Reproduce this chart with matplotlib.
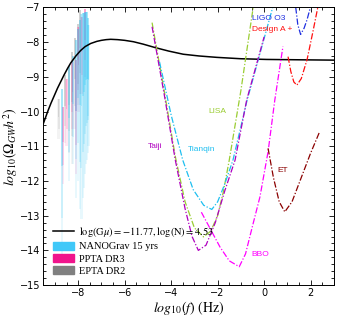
import numpy as np
import matplotlib

matplotlib.use("Agg")
import matplotlib.pyplot as plt
from matplotlib.patches import Patch
from matplotlib.lines import Line2D

plt.rcParams["mathtext.fontset"] = "stix"

# cosmic string spectrum (log10 f, log10 Omega h^2)
cs_logf = [-9.5, -9.3, -9.17, -9.0, -8.89, -8.75, -8.61, -8.45, -8.32, -8.1, -7.89, -7.7, -7.46, -7.2,
           -7.0, -6.8, -6.6, -6.3, -6.0, -5.62, -5.2, -4.68, -4.1, -3.48, -2.8, -2.04, -1.0, 0.1, 1.5, 3.0]
cs_logo = [-10.35, -9.98, -9.76, -9.5, -9.33, -9.14, -8.95, -8.75, -8.6, -8.4, -8.24, -8.13, -8.04, -7.98,
           -7.95, -7.93, -7.92, -7.93, -7.95, -7.99, -8.06, -8.16, -8.26, -8.35, -8.4, -8.44, -8.48, -8.5, -8.51, -8.52]

# detector sensitivity curves
lisa_f = [-4.82, -4.3, -3.82, -3.4, -3.0, -2.61, -2.3, -2.0, -1.75, -1.5, -1.0, -0.47]
lisa_o = [-7.44, -9.4, -11.3, -12.6, -13.35, -13.61, -13.45, -13.0, -12.3, -11.4, -9.4, -7.0]
tianqin_f = [-4.5, -4.0, -3.5, -3.05, -2.6, -2.25, -2.0, -1.7, -1.34, -0.73, 0.37]
tianqin_o = [-8.57, -10.1, -11.4, -12.25, -12.7, -12.82, -12.6, -12.1, -11.4, -9.67, -7.0]
taiji_f = [-4.82, -4.3, -3.82, -3.4, -3.1, -2.83, -2.5, -2.1, -1.7, -1.25, -0.75, 0.0]
taiji_o = [-7.56, -9.5, -11.4, -12.8, -13.6, -14.0, -13.85, -13.2, -12.3, -11.4, -9.67, -7.85]
bbo_f = [-2.7, -2.3, -1.9, -1.5, -1.07, -0.8, -0.5, -0.18, 0.17, 0.46, 0.81]
bbo_o = [-12.9, -13.4, -13.9, -14.3, -14.47, -14.1, -13.3, -12.46, -11.16, -9.67, -8.13]
et_f = [0.17, 0.4, 0.65, 0.89, 1.2, 1.6, 2.0, 2.39]
et_o = [-11.06, -11.9, -12.6, -12.89, -12.6, -11.9, -11.2, -10.58]
aplus_f = [1.03, 1.15, 1.28, 1.41, 1.6, 1.85, 2.1, 2.31]
aplus_o = [-8.42, -8.85, -9.15, -9.24, -9.05, -8.5, -7.7, -7.0]
ligo_f = [1.36, 1.45, 1.57, 1.72, 1.85, 1.99]
ligo_o = [-7.0, -7.5, -7.78, -7.6, -7.35, -7.0]

# PTA violins: centre log10 f, lower and upper log10 Omega h^2
nano_f = [-8.70, -8.40, -8.23, -8.10, -8.00, -7.93, -7.86, -7.80, -7.75, -7.70, -7.66, -7.62, -7.59, -7.56]
nano_lo = [-14.3, -12.0, -11.5, -12.5, -12.0, -12.8, -13.1, -12.5, -12.2, -11.8, -11.5, -11.4, -11.2, -11.0]
nano_hi = [-9.2, -8.6, -8.3, -7.8, -7.5, -7.2, -7.0, -7.0, -7.0, -7.0, -7.0, -7.0, -7.2, -7.4]
ppta_f = [-8.65, -8.50, -8.25, -8.10, -7.99, -7.85, -7.70]
ppta_lo = [-12.1, -11.0, -10.5, -11.8, -10.0, -9.5, -9.0]
ppta_hi = [-9.8, -9.0, -8.5, -8.4, -7.5, -7.2, -7.0]
epta_f = [-8.84, -8.58, -8.40, -8.28, -8.15, -8.02, -7.93]
epta_lo = [-10.8, -10.9, -11.2, -11.5, -10.5, -9.8, -9.5]
epta_hi = [-9.6, -8.9, -8.6, -8.2, -7.8, -7.4, -7.0]

DASHDOT = (0, (5, 1.5, 1, 1.5))


def draw_violins(ax, fs, los, his, color, width=0.05):
    for f, lo, hi in zip(fs, los, his):
        span = hi - lo
        for frac, alpha in [(1.0, 0.10), (0.75, 0.14), (0.45, 0.2)]:
            top = hi - 0.03 * span
            bot = top - frac * span * 0.97
            w = width * (0.5 + 0.5 * frac)
            ax.fill_betweenx([bot, top], f - w, f + w, color=color, alpha=alpha, linewidth=0)


fig = plt.figure(figsize=(3.41, 3.2), dpi=100)
ax = fig.add_axes([0.127, 0.109, 0.852, 0.868])

draw_violins(ax, epta_f, epta_lo, epta_hi, "#8a8a8a")
draw_violins(ax, ppta_f, ppta_lo, ppta_hi, "#ff1a8c")
draw_violins(ax, nano_f, nano_lo, nano_hi, "#1ec0f5")

ax.plot(cs_logf, cs_logo, color="black", lw=1.1)

curves = [
    (lisa_f, lisa_o, "#9acd32"),
    (tianqin_f, tianqin_o, "#1ebff0"),
    (taiji_f, taiji_o, "#b000c0"),
    (bbo_f, bbo_o, "#ff00ff"),
    (et_f, et_o, "#8b0000"),
    (aplus_f, aplus_o, "#ff1010"),
    (ligo_f, ligo_o, "#2030e0"),
]
for xs, ys, c in curves:
    ax.plot(xs, ys, color=c, lw=0.9, linestyle=DASHDOT)

lab_kw = dict(fontsize=6, family="Liberation Sans", va="center")
ax.text(-0.5, -7.32, "LIGO O3", color="#2030e0", **lab_kw)
ax.text(-0.5, -7.63, "Design A +", color="#ff1010", **lab_kw)
ax.text(-2.41, -10.01, "LISA", color="#9acd32", **lab_kw)
ax.text(-5.01, -11.02, "Taiji", color="#b000c0", **lab_kw)
ax.text(-3.28, -11.08, "Tianqin", color="#1ebff0", **lab_kw)
ax.text(0.55, -11.7, "ET", color="#8b0000", **lab_kw)
ax.text(-0.55, -14.13, "BBO", color="#ff00ff", **lab_kw)

ax.set_xlim(-9.5, 3)
ax.set_ylim(-15, -7)
ax.set_xticks([-8, -6, -4, -2, 0, 2])
ax.set_xticks(np.arange(-9.5, 3.01, 0.5), minor=True)
ax.set_yticks(range(-15, -6))
ax.set_yticks(np.arange(-15, -6.99, 0.2), minor=True)
ax.tick_params(which="both", direction="in", top=True, right=True, labelsize=7, width=0.6, pad=2)
ax.tick_params(which="major", length=3.5)
ax.tick_params(which="minor", length=2)
for s in ax.spines.values():
    s.set_linewidth(0.7)

ax.set_xlabel(r"$log_{10}(f)\ \mathrm{(Hz)}$", fontsize=10, labelpad=1)
ax.set_ylabel(r"$log_{10}(\Omega_{GW}h^2)$", fontsize=10, labelpad=0)

handles = [
    Line2D([], [], color="black", lw=1.1),
    Patch(color="#40c8f8"),
    Patch(color="#f0148c"),
    Patch(color="#808080"),
]
labels = [
    r"$\log(\mathrm{G}\mu) = -11.77, \log(\mathrm{N}) = 4.53$",
    "NANOGrav 15 yrs",
    "PPTA DR3",
    "EPTA DR2",
]
ax.legend(handles, labels, loc="lower left", bbox_to_anchor=(0.0, 0.0), frameon=False,
          prop={"family": "Liberation Serif", "size": 7.5}, handlelength=2.0, handleheight=0.8,
          handletextpad=0.5, labelspacing=0.25, borderaxespad=0.5)

fig.savefig("out.png", dpi=100)
